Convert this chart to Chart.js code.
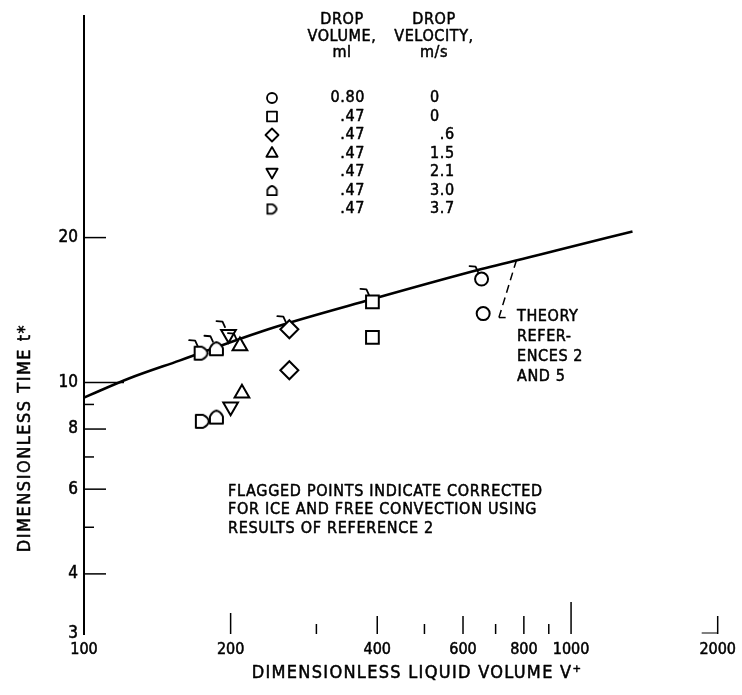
<!DOCTYPE html>
<html><head><meta charset="utf-8">
<script src="https://cdn.jsdelivr.net/npm/chart.js@4.4.1/dist/chart.umd.min.js"></script>
<style>html,body{margin:0;padding:0;background:#fff;}#wrap{width:742px;height:695px;position:relative;}</style>
</head><body><div id="wrap"><canvas id="c" width="742" height="695"></canvas></div>
<script>
const FONT = "'Liberation Sans Narrow','DejaVu Sans Condensed','Roboto Condensed','Liberation Sans',sans-serif";

// ---- data ----
const dropVolume = ['0.80', '.47', '.47', '.47', '.47', '.47', '.47'];
const dropVelocity = ['0', '0', '.6', '1.5', '2.1', '3.0', '3.7'];

const circleV = [655, 660];   const circleT = [16.4, 13.9];
const squareV = [391, 391];   const squareT = [14.7, 12.4];
const diamondV = [264, 264];  const diamondT = [12.9, 10.6];
const triUpV = [209, 211];    const triUpT = [11.9, 9.5];
const triDownV = [198, 200];  const triDownT = [12.6, 8.9];
const houseV = [187, 187];    const houseT = [11.75, 8.47];
const dShapeV = [174, 175];   const dShapeT = [11.5, 8.3];
const flagged = [true, false];

const theoryV = [100, 124, 157, 239, 391, 655, 932, 1337];
const theoryT = [9.3, 10.2, 11.1, 12.9, 14.9, 17.2, 18.8, 20.6];

const xTickValues = [100, 200, 400, 600, 800, 1000, 2000];
const xMinorValues = [300, 500, 700, 900];
const yTickValues = [3, 4, 6, 8, 10, 20];
const yMinorValues = [5, 7, 9];

// leader line for theory label (data units)
const leaderV = [734, 711, 773];
const leaderT = [13.64, 13.64, 17.99];

// ---- symbol images ----
function makeHouse(s, lw) {
  const c = document.createElement('canvas'); c.width = s; c.height = s;
  const g = c.getContext('2d'); g.strokeStyle = '#000'; g.fillStyle = '#fff'; g.lineWidth = lw; g.lineJoin = 'round';
  const m = lw, w = s - 2 * m;
  g.beginPath();
  g.moveTo(m, s - m); g.lineTo(s - m, s - m); g.lineTo(s - m, m + w * 0.45);
  g.quadraticCurveTo(s - m - w * 0.2, m + w * 0.05, s / 2, m);
  g.quadraticCurveTo(m + w * 0.2, m + w * 0.05, m, m + w * 0.45);
  g.closePath(); g.fill(); g.stroke();
  return c;
}
const houseImg = makeHouse(17, 2);
const houseSmall = makeHouse(13, 1.8);

function pts(vs, ts) { return vs.map((v, i) => ({ x: v, y: ts[i] })); }
function markerSet(label, vs, ts, style, radius, rotation) {
  return {
    label, type: 'scatter', data: pts(vs, ts), pointStyle: style, pointRadius: radius, pointHoverRadius: radius,
    rotation: rotation || 0, borderColor: '#000', backgroundColor: '#fff', borderWidth: 2, order: 0, showLine: false
  };
}

const datasets = [
  markerSet('circle', circleV, circleT, 'circle', 6.5),
  markerSet('square', squareV, squareT, 'rect', 9),
  markerSet('diamond', diamondV, diamondT, 'rectRot', 9),
  markerSet('triUp', triUpV, triUpT, 'triangle', 8.5),
  markerSet('triDown', triDownV, triDownT, 'triangle', 8.5, 180),
  markerSet('house', houseV, houseT, houseImg, 8),
  markerSet('dShape', dShapeV, dShapeT, houseImg, 8, 90),
  { label: 'theory', type: 'line', data: pts(theoryV, theoryT), borderColor: '#000', borderWidth: 2.6,
    pointRadius: 0, fill: false, cubicInterpolationMode: 'monotone', order: 10 }
];
const legendStyles = [
  ['circle', 5, 0], ['rect', 7, 0], ['rectRot', 6.5, 0], ['triangle', 6.5, 0], ['triangle', 6.5, 180], [houseSmall, 6, 0], [houseSmall, 6, 90]
];

function line(ctx, x1, y1, x2, y2) { ctx.beginPath(); ctx.moveTo(x1, y1); ctx.lineTo(x2, y2); ctx.stroke(); }
function text(ctx, t, x, y) { ctx.fillText(t, x, y); ctx.strokeText(t, x, y); }

const decor = {
  id: 'decor',
  afterDatasetsDraw(chart) {
    const ctx = chart.ctx;
    const xs = chart.scales.x, ys = chart.scales.y;
    ctx.save();
    ctx.strokeStyle = '#000'; ctx.lineWidth = 1.8; ctx.lineCap = 'round'; ctx.lineJoin = 'round';
    // flags on corrected points
    for (let d = 0; d < 7; d++) {
      const meta = chart.getDatasetMeta(d);
      meta.data.forEach((el, i) => {
        if (!flagged[i]) return;
        ctx.beginPath();
        ctx.moveTo(el.x - 12, el.y - 13);
        ctx.lineTo(el.x - 6, el.y - 12.5);
        ctx.lineTo(el.x - 3.5, el.y - 7);
        ctx.stroke();
      });
    }
    // ticks (inside)
    const bottom = chart.chartArea.bottom, left = chart.chartArea.left;
    ctx.lineWidth = 1.5; ctx.lineCap = 'butt';
    xTickValues.forEach(v => {
      if (v === 100) return;
      const x = xs.getPixelForValue(v);
      const len = v === 1000 ? 32 : (v === 200 ? 21 : 18);
      line(ctx, x, bottom, x, bottom - len);
    });
    xMinorValues.forEach(v => {
      const x = xs.getPixelForValue(v);
      line(ctx, x, bottom, x, bottom - 10);
    });
    // small foot at the 2000 tick
    const x2k = xs.getPixelForValue(2000);
    ctx.lineWidth = 1;
    line(ctx, x2k - 16, bottom - 1, x2k, bottom - 1);
    ctx.lineWidth = 1.5;
    yTickValues.forEach(v => {
      if (v === 3) return;
      const y = ys.getPixelForValue(v);
      line(ctx, left, y, left + (v === 10 ? 40 : 22), y);
    });
    yMinorValues.forEach(v => {
      const y = ys.getPixelForValue(v);
      line(ctx, left, y, left + 10, y);
    });
    // leader line (dashed) to theory curve
    line(ctx, xs.getPixelForValue(leaderV[0]), ys.getPixelForValue(leaderT[0]),
      xs.getPixelForValue(leaderV[1]), ys.getPixelForValue(leaderT[1]));
    ctx.setLineDash([8, 5]);
    line(ctx, xs.getPixelForValue(leaderV[1]), ys.getPixelForValue(leaderT[1]),
      xs.getPixelForValue(leaderV[2]), ys.getPixelForValue(leaderT[2]));
    ctx.setLineDash([]);

    // texts
    ctx.fillStyle = '#000';
    ctx.font = '16px ' + FONT;
    ctx.letterSpacing = '0.6px';
    ctx.textBaseline = 'middle';
    ctx.textAlign = 'center';
    ['DROP', 'VOLUME,', 'ml'].forEach((t, i) => { ctx.lineWidth = 0.5; text(ctx, t, 342, 20 + i * 16.5); });
    ['DROP', 'VELOCITY,', 'm/s'].forEach((t, i) => { ctx.lineWidth = 0.5; text(ctx, t, 434, 20 + i * 16.5); });
    const rowY0 = 98, rowDy = 18.5;
    const col2Left = 430;
    const w15 = ctx.measureText('1.5').width;
    for (let r = 0; r < 7; r++) {
      const y = rowY0 + r * rowDy;
      const st = legendStyles[r];
      ctx.lineWidth = 1.8; ctx.strokeStyle = '#000'; ctx.fillStyle = '#fff';
      Chart.helpers.drawPoint(ctx, { pointStyle: st[0], radius: st[1], rotation: st[2], borderWidth: 1.8 }, 272, y);
      ctx.fillStyle = '#000';
      ctx.lineWidth = 0.5;
      ctx.textAlign = 'right';
      text(ctx, dropVolume[r], 365, y);
      if (dropVelocity[r] === '0') { ctx.textAlign = 'left'; text(ctx, dropVelocity[r], col2Left, y); }
      else { ctx.textAlign = 'right'; text(ctx, dropVelocity[r], col2Left + w15, y); }
    }
    ctx.lineWidth = 0.5;
    ctx.textAlign = 'left';
    ['THEORY', 'REFER-', 'ENCES 2', 'AND 5'].forEach((t, i) => text(ctx, t, 517, 317 + i * 20));
    ctx.letterSpacing = '0.7px';
    ['FLAGGED POINTS INDICATE CORRECTED', 'FOR ICE AND FREE CONVECTION USING', 'RESULTS OF REFERENCE 2']
      .forEach((t, i) => text(ctx, t, 228, 492 + i * 18.3));
    // axis titles
    ctx.font = '18px ' + FONT;
    ctx.letterSpacing = '1.3px';
    ctx.textAlign = 'center';
    text(ctx, 'DIMENSIONLESS LIQUID VOLUME V\u207A', 417, 673);
    ctx.save();
    ctx.translate(25, 438); ctx.rotate(-Math.PI / 2);
    ctx.letterSpacing = '1.5px';
    text(ctx, 'DIMENSIONLESS TIME t*', 0, 0);
    ctx.restore();
    ctx.restore();
  }
};

new Chart(document.getElementById('c'), {
  type: 'scatter',
  data: { datasets },
  options: {
    responsive: false, animation: false, events: [],
    layout: { padding: { top: 15, right: 18, left: 0, bottom: 0 } },
    plugins: { legend: { display: false }, tooltip: { enabled: false } },
    scales: {
      x: {
        type: 'logarithmic', min: 100, max: 2000,
        afterBuildTicks: s => { s.ticks = xTickValues.map(v => ({ value: v })); },
        afterFit: s => { s.height = 61; },
        grid: { display: false, drawTicks: false },
        border: { display: false },
        ticks: { callback: v => String(v), autoSkip: false, maxRotation: 0, padding: 6, color: '#000',
          textStrokeColor: '#000', textStrokeWidth: 0.5,
          font: { family: FONT, size: 16 }, major: { enabled: false } }
      },
      y: {
        type: 'logarithmic', min: 3, max: 57.7,
        afterBuildTicks: s => { s.ticks = yTickValues.map(v => ({ value: v })); },
        afterFit: s => { s.width = 84; },
        grid: { display: false, drawTicks: false },
        border: { display: true, color: '#000', width: 2 },
        ticks: { callback: v => String(v), autoSkip: false, padding: 6, color: '#000',
          textStrokeColor: '#000', textStrokeWidth: 0.5,
          font: { family: FONT, size: 17 }, major: { enabled: false } }
      }
    }
  },
  plugins: [decor]
});
</script></body></html>
